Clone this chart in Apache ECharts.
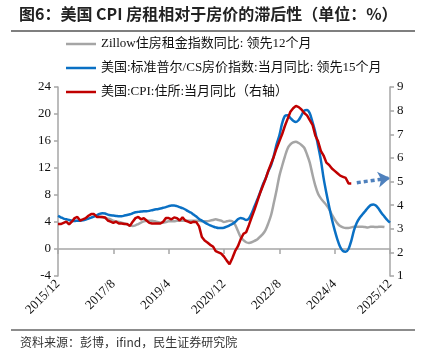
<!DOCTYPE html>
<html><head><meta charset="utf-8">
<script src="https://cdn.jsdelivr.net/npm/echarts@6/dist/echarts.min.js"></script>
<style>html,body{margin:0;padding:0;background:#fff}#c{width:426px;height:356px}</style>
</head><body><div id="c"></div>
<script>
// Monthly categories 2015/12 .. 2025/12
const categories = [];
for (let i = 0; i <= 120; i++) {
  const mm = 11 + i; // zero-based month count from 2015/01
  categories.push((2015 + Math.floor(mm / 12)) + '/' + ((mm % 12) + 1));
}
const xTickLabels = ['2015/12', '2017/8', '2019/4', '2020/12', '2022/8', '2024/4', '2025/12'];

const seriesNames = [
  'Zillow住房租金指数同比: 领先12个月',
  '美国:标准普尔/CS房价指数:当月同比: 领先15个月',
  '美国:CPI:住所:当月同比（右轴）'
];

// Zillow rent YoY (left axis), starts 2017/1
const zillowLeadNulls = 13;
const zillowYoY = [
  5.0, 4.9, 4.8, 4.7, 4.6, 4.5, 4.4, 4.2, 4.1, 4.0, 3.9, 3.8,
  3.6, 3.5, 3.4, 3.5, 3.7, 3.9, 4.1, 4.2, 4.2, 4.2, 4.1, 4.0,
  3.9, 3.9, 4.0, 4.1, 4.1, 4.1, 4.2, 4.2, 4.2, 4.2, 4.2, 4.2,
  4.2, 4.2, 4.2, 4.1, 4.1, 4.1, 4.2, 4.3, 4.4, 4.3, 4.2, 4.0,
  4.1, 4.2, 4.1, 3.6, 2.7, 1.8, 1.3, 1.0, 0.9, 1.0, 1.2, 1.4,
  1.8, 2.2, 2.8, 3.8, 5.0, 6.8, 8.7, 10.8, 12.3, 13.7, 14.9, 15.5,
  15.8, 15.9, 15.7, 15.4, 15.0, 14.0, 12.8, 11.0, 9.4, 8.2, 7.5, 7.0,
  6.5, 5.9, 5.1, 4.4, 3.8, 3.4, 3.2, 3.1, 3.1, 3.2, 3.3, 3.3,
  3.3, 3.3, 3.25, 3.2, 3.3, 3.3, 3.25, 3.3, 3.3, 3.25
];

// Case-Shiller YoY (left axis), 2015/12 .. 2025/12
const caseShillerYoY = [
  4.9, 4.7, 4.5, 4.4, 4.3, 4.2, 4.15, 4.2, 4.2, 4.25, 4.35, 4.5,
  4.65, 4.8, 5.0, 5.2, 5.3, 5.25, 5.1, 5.0, 4.95, 4.9, 4.85, 4.85,
  4.95, 5.05, 5.15, 5.3, 5.45, 5.5, 5.55, 5.6, 5.6, 5.65, 5.75, 5.85,
  5.9, 6.0, 6.1, 6.2, 6.35, 6.45, 6.45, 6.35, 6.2, 6.05, 5.85, 5.6,
  5.4, 5.1, 4.8, 4.45, 4.2, 3.95, 3.7, 3.5, 3.35, 3.2, 3.1, 3.1,
  3.15, 3.3, 3.5, 3.7, 4.0, 4.4, 4.6, 4.5, 4.3, 4.5, 5.3, 6.3,
  7.3, 8.3, 9.5, 10.4, 11.5, 12.4, 13.8, 15.5, 16.8, 18.6, 19.7, 19.8,
  19.4, 19.0, 18.8, 19.1, 19.8, 20.5, 20.6, 20.1, 18.8, 17.3, 15.3, 13.2,
  10.5, 8.3, 6.3, 4.4, 2.8, 1.4, 0.3, -0.3, -0.4, 0.0, 1.2, 2.8,
  3.9, 4.6, 5.1, 5.6, 6.1, 6.5, 6.6, 6.4, 5.9, 5.3, 4.8, 4.3,
  3.9
];

// CPI shelter YoY (right axis), 2015/12 .. 2024/10
const cpiShelterYoY = [
  3.20, 3.20, 3.25, 3.30, 3.18, 3.30, 3.45, 3.50, 3.35, 3.40, 3.45, 3.55,
  3.62, 3.62, 3.50, 3.50, 3.50, 3.48, 3.35, 3.30, 3.25, 3.30, 3.22, 3.22,
  3.20, 3.20, 3.12, 3.30, 3.45, 3.50, 3.40, 3.45, 3.35, 3.25, 3.22, 3.22,
  3.22, 3.22, 3.30, 3.45, 3.45, 3.40, 3.48, 3.45, 3.35, 3.48, 3.35, 3.30,
  3.25, 3.30, 3.28, 3.10, 2.65, 2.50, 2.42, 2.32, 2.25, 2.05, 2.00, 1.95,
  1.82, 1.65, 1.50, 1.75, 2.05, 2.25, 2.55, 2.78, 2.85, 3.15, 3.48, 3.80,
  4.15, 4.50, 4.80, 5.10, 5.45, 5.75, 6.05, 6.40, 6.70, 7.00, 7.35, 7.65,
  7.95, 8.10, 8.20, 8.15, 8.05, 7.90, 7.80, 7.60, 7.40, 6.95, 6.70, 6.30,
  6.10, 5.80, 5.70, 5.55, 5.45, 5.35, 5.25, 5.20, 5.15, 4.92, 4.92
];

// Projection arrow (right axis values)
const arrowFrom = { month: '2024/12', value: 4.95 };
const arrowTo = { month: '2025/12', value: 5.15 };

const serif = '"Liberation Serif", "Times New Roman", "Noto Sans CJK SC", serif';
const axisGray = '#a6a6a6';

const chart = echarts.init(document.getElementById('c'), null, { renderer: 'canvas' });
chart.setOption({
  animation: false,
  backgroundColor: '#fff',
  title: {
    text: '图6：美国 CPI 房租相对于房价的滞后性（单位：%）',
    left: 19, top: 6, padding: 0,
    textStyle: { fontFamily: '"Noto Sans CJK SC", sans-serif', fontWeight: 'bold', fontSize: 16, color: '#222' }
  },
  graphic: [
    { type: 'line', shape: { x1: 11, y1: 31, x2: 415, y2: 31 }, style: { stroke: '#555', lineWidth: 1.5 } },
    { type: 'line', shape: { x1: 11, y1: 330, x2: 415, y2: 330 }, style: { stroke: '#8c8c8c', lineWidth: 2 } },
    { type: 'text', left: 20, top: 336, style: { text: '资料来源：彭博，ifind，民生证券研究院', fill: '#333', font: '12px "Noto Sans CJK SC", sans-serif' } }
  ],
  legend: {
    orient: 'vertical', left: 66, top: 36.5, padding: 0,
    itemWidth: 30, itemHeight: 2.5, itemGap: 9, icon: 'rect',
    textStyle: { fontFamily: serif, fontSize: 13, color: '#111', lineHeight: 15 },
    data: seriesNames
  },
  grid: { left: 58, right: 36, top: 87, bottom: 80, outerBoundsMode: 'none' },
  xAxis: [
    {
      type: 'category', data: categories, boundaryGap: false, position: 'top',
      axisLine: { onZero: true, lineStyle: { color: axisGray, width: 1.5 } },
      axisTick: { inside: true, interval: 19, length: 5, lineStyle: { color: axisGray, width: 1.5 } },
      axisLabel: { show: false }, splitLine: { show: false }
    },
    {
      type: 'category', data: categories, boundaryGap: false, position: 'bottom',
      axisLine: { show: false, onZero: false }, axisTick: { show: false },
      axisLabel: {
        interval: (idx, val) => xTickLabels.indexOf(val) >= 0,
        rotate: 45, margin: 6, fontFamily: serif, fontSize: 13, color: '#111'
      },
      splitLine: { show: false }
    }
  ],
  yAxis: [
    {
      type: 'value', min: -4, max: 24, interval: 4, position: 'left',
      axisLine: { show: true, lineStyle: { color: axisGray, width: 1.5 } },
      axisTick: { show: true, length: 4, lineStyle: { color: axisGray, width: 1.5 } },
      axisLabel: { fontFamily: serif, fontSize: 13, color: '#111', margin: 7 },
      splitLine: { show: false }
    },
    {
      type: 'value', min: 1, max: 9, interval: 1, position: 'right',
      axisLine: { show: true, lineStyle: { color: axisGray, width: 1.5 } },
      axisTick: { show: true, length: 4, lineStyle: { color: axisGray, width: 1.5 } },
      axisLabel: { fontFamily: serif, fontSize: 13, color: '#111', margin: 7 },
      splitLine: { show: false }
    }
  ],
  series: [
    {
      name: seriesNames[0], type: 'line', xAxisIndex: 0, yAxisIndex: 0,
      data: Array(zillowLeadNulls).fill(null).concat(zillowYoY),
      showSymbol: false, symbol: 'none', smooth: 0.3,
      lineStyle: { color: '#a5a5a5', width: 2.5 }, itemStyle: { color: '#a5a5a5' }
    },
    {
      name: seriesNames[1], type: 'line', xAxisIndex: 0, yAxisIndex: 0,
      data: caseShillerYoY,
      showSymbol: false, symbol: 'none', smooth: 0.3,
      lineStyle: { color: '#0a70c4', width: 2.5 }, itemStyle: { color: '#0a70c4' }
    },
    {
      name: seriesNames[2], type: 'line', xAxisIndex: 0, yAxisIndex: 1,
      data: cpiShelterYoY,
      showSymbol: false, symbol: 'none',
      lineStyle: { color: '#c00000', width: 2.5 }, itemStyle: { color: '#c00000' },
      markLine: {
        silent: true, symbol: ['none', 'arrow'], symbolSize: 12,
        label: { show: false },
        lineStyle: { color: '#4f81bd', width: 3.5, type: [4, 3] },
        data: [[
          { coord: [arrowFrom.month, arrowFrom.value] },
          { coord: [arrowTo.month, arrowTo.value] }
        ]]
      }
    }
  ]
});
</script>
</body></html>
